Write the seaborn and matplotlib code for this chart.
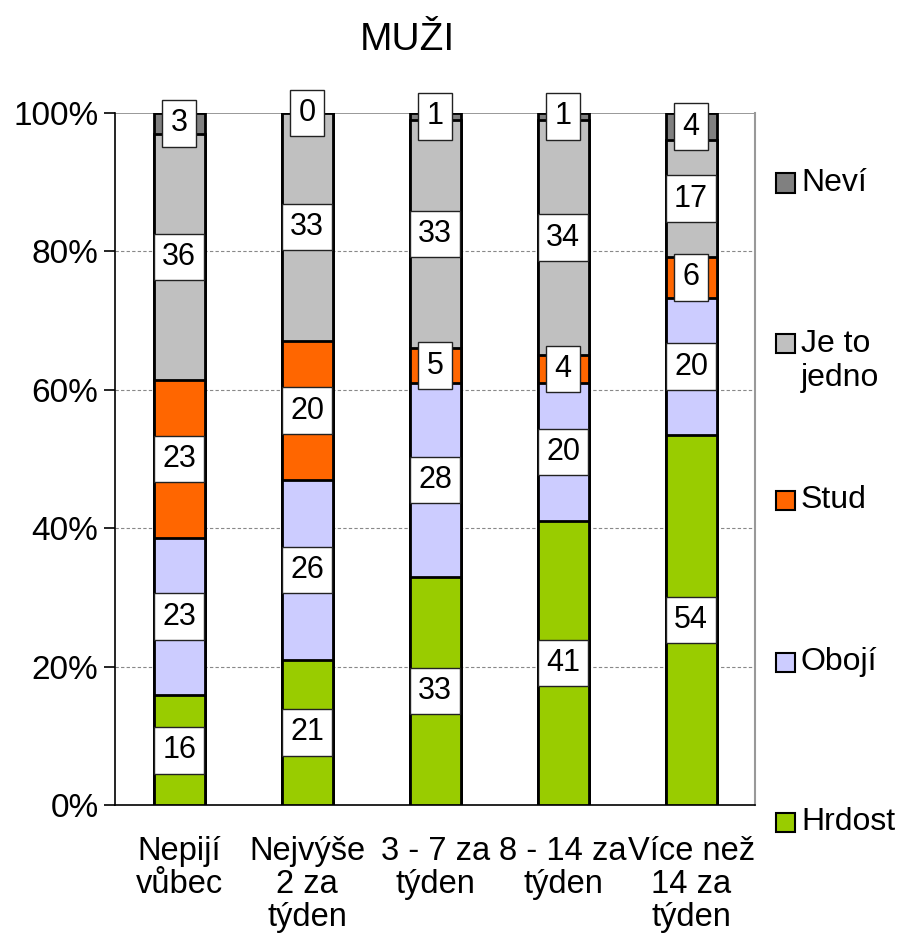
import numpy as np
import pandas as pd
import seaborn as sns
import matplotlib.pyplot as plt
from matplotlib.patches import Rectangle

# data (raw counts shown in the labels)
categories = ["Nepijí\nvůbec", "Nejvýše\n2 za\ntýden", "3 - 7 za\ntýden",
              "8 - 14 za\ntýden", "Více než\n14 za\ntýden"]
series = ["Hrdost", "Obojí", "Stud", "Je to jedno", "Neví"]
hrdost = [16, 21, 33, 41, 54]
oboji = [23, 26, 28, 20, 20]
stud = [23, 20, 5, 4, 6]
jedno = [36, 33, 33, 34, 17]
nevi = [3, 0, 1, 1, 4]
colors = ["#99CC00", "#CCCCFF", "#FF6600", "#C0C0C0", "#808080"]
legend_labels = ["Hrdost", "Obojí", "Stud", "Je to\njedno", "Neví"]

sns.set_style("white")
plt.rcParams["font.family"] = ["Liberation Sans", "DejaVu Sans"]
plt.rcParams["text.color"] = "black"
plt.rcParams["xtick.color"] = "black"
plt.rcParams["ytick.color"] = "black"

raw = np.array([hrdost, oboji, stud, jedno, nevi], dtype=float)
pct = raw / raw.sum(axis=0) * 100
cum = np.cumsum(pct, axis=0)

W, H = 900, 934
fig = plt.figure(figsize=(9, 9.34), dpi=100)
ax = fig.add_axes([0.128, 0.138, 0.711, 0.741])

# draw cumulative layers from the top down so lower ones overlay
for i in range(len(series) - 1, -1, -1):
    df = pd.DataFrame({"cat": categories, "val": cum[i]})
    sns.barplot(data=df, x="cat", y="val", color=colors[i], width=0.4,
                edgecolor="black", linewidth=2, saturation=1, ax=ax, zorder=3)

# value labels in white boxes
for i in range(len(series)):
    for j in range(len(categories)):
        y = cum[i, j] - pct[i, j] / 2
        ax.text(j, y, f"{int(raw[i, j])}", ha="center", va="center",
                fontsize=22, zorder=5,
                bbox=dict(boxstyle="square,pad=0.27", fc="white", ec="#222222", lw=1))

ax.set_ylim(0, 100)
ax.set_xlim(-0.5, 4.5)
ax.set_yticks([0, 20, 40, 60, 80, 100])
ax.set_yticklabels(["0%", "20%", "40%", "60%", "80%", "100%"], fontsize=24)
ax.set_xticks(range(5))
ax.set_xticklabels(categories, fontsize=23.5, linespacing=1.1)
ax.set_xlabel("")
ax.set_ylabel("")
ax.tick_params(axis="x", length=0, pad=22)
ax.set_xticks(np.arange(-0.5, 5, 1), minor=True)
ax.tick_params(axis="x", which="minor", length=10, width=1.2, color="black", direction="out")
ax.tick_params(axis="y", length=8, width=1.2, color="black", direction="out", left=True, pad=4)

for y in [20, 40, 60, 80]:
    ax.axhline(y, color="#888888", lw=0.8, ls=(0, (3, 2)), zorder=1)
ax.axhline(100, color="#888888", lw=1.2, zorder=1)

for s in ["left", "bottom"]:
    ax.spines[s].set_color("black")
    ax.spines[s].set_linewidth(1.2)
ax.spines["top"].set_visible(False)
ax.spines["right"].set_color("#999999")
ax.spines["right"].set_linewidth(1.5)

fig.text(0.453, 1 - 40 / H, "MUŽI", ha="center", va="center", fontsize=28)

# legend entries laid out like the original (top to bottom: Neví ... Hrdost)
legend_y = [822, 662, 500, 361, 183]
for i in range(len(series)):
    yc = legend_y[i]
    hy = 343 if "\n" in legend_labels[i] else yc
    fig.patches.append(Rectangle((776 / W, 1 - (hy + 9.5) / H), 19 / W, 19 / H,
                                 transform=fig.transFigure, facecolor=colors[i],
                                 edgecolor="black", lw=1.5))
    fig.text(801 / W, 1 - yc / H, legend_labels[i], ha="left", va="center",
             fontsize=23, linespacing=1.2)

fig.savefig("out.png", dpi=100)
